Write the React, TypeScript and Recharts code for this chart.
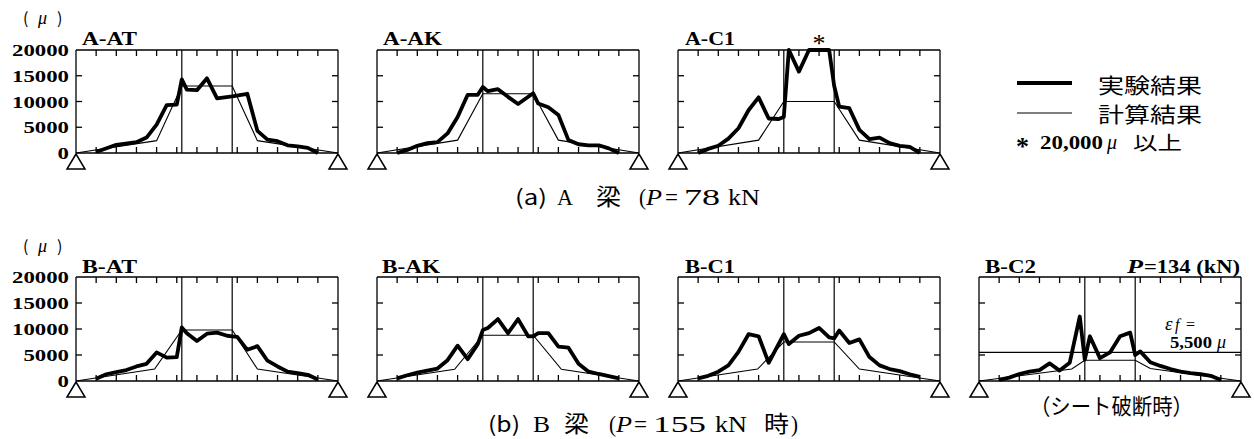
import React from 'react';
import { LineChart, Line, XAxis, YAxis, ReferenceLine, ReferenceDot } from 'recharts';

// ---------- axis ticks ----------
const Y_TICKS = [0, 5000, 10000, 15000, 20000];
const Y_INNER_TICKS = [5000, 10000, 15000];
const X_TICKS = [1, 2, 3, 4, 5, 6, 7, 8, 9, 10, 11, 12];
const X_DOMAIN = [0, 13];
const Y_DOMAIN = [0, 20000];
const LOAD_POINTS = [5.25, 7.75];
const SUPPORTS = [0, 13];
const SHEET_RUPTURE = 5500;

// ---------- A beam ----------
const AAT_EXP_X = [1, 2, 3, 3.5, 4, 4.5, 5, 5.25, 5.5, 6, 6.5, 7, 7.75, 8.5, 9, 9.5, 10, 10.5, 11, 11.5, 12];
const AAT_EXP_Y = [200, 1600, 2100, 3000, 5500, 9300, 9400, 14300, 12300, 12200, 14500, 10600, 11000, 11500, 4300, 2600, 2300, 1500, 1300, 1000, 0];
const AAT_CAL_X = [0, 4, 5.25, 7.75, 9, 13];
const AAT_CAL_Y = [0, 2400, 13000, 13000, 2400, 0];

const AAK_EXP_X = [1, 1.5, 2, 2.5, 3, 3.5, 4, 4.5, 5, 5.25, 5.5, 6, 6.5, 7, 7.75, 8, 8.5, 9, 9.5, 10, 10.5, 11, 11.5, 12];
const AAK_EXP_Y = [0, 600, 1400, 1900, 2100, 3800, 7000, 11300, 11300, 12800, 12000, 12400, 10900, 9500, 11600, 9600, 8900, 7400, 2500, 1700, 1500, 1500, 900, 0];
const AAK_CAL_X = [0, 4, 5.25, 7.75, 9, 13];
const AAK_CAL_Y = [0, 2500, 11500, 11500, 2500, 0];

const AC1_EXP_X = [1, 1.5, 2, 2.5, 3, 3.5, 4, 4.5, 5, 5.25, 5.5, 6, 6.5, 7.5, 7.75, 8, 8.5, 9, 9.5, 10, 10.5, 11, 11.5, 12];
const AC1_EXP_Y = [0, 800, 1400, 2800, 4800, 8300, 10800, 6700, 6600, 7000, 20000, 15800, 20000, 20000, 13000, 9000, 8700, 4500, 2700, 3000, 1900, 1400, 1200, 0];
const AC1_CAL_X = [0, 4, 5.25, 7.75, 9, 13];
const AC1_CAL_Y = [0, 2500, 10000, 10000, 2500, 0];

// ---------- B beam ----------
const BAT_EXP_X = [1, 1.5, 2, 2.5, 3, 3.5, 4, 4.5, 5, 5.25, 5.5, 6, 6.5, 7, 7.5, 7.75, 8, 8.5, 9, 9.5, 10, 10.5, 11, 11.5, 12];
const BAT_EXP_Y = [450, 1300, 1700, 2100, 2800, 3300, 5500, 4500, 4600, 10300, 9200, 7700, 9100, 9300, 8700, 8600, 8500, 6000, 6700, 3900, 2800, 1800, 1500, 1200, 300];
const BAT_CAL_X = [0, 3.9, 5.25, 7.75, 9, 13];
const BAT_CAL_Y = [0, 2300, 9800, 9800, 2300, 0];

const BAK_EXP_X = [1, 1.5, 2, 2.5, 3, 3.5, 4, 4.5, 5, 5.25, 5.5, 6, 6.5, 7, 7.5, 7.75, 8, 8.5, 9, 9.5, 10, 10.5, 11, 11.5, 12];
const BAK_EXP_Y = [500, 1100, 1600, 2000, 2400, 4000, 6800, 4200, 7100, 9800, 10200, 11900, 9200, 11900, 8600, 8600, 9200, 9200, 6600, 6400, 3300, 1800, 1350, 950, 500];
const BAK_CAL_X = [0, 3.85, 5.25, 7.75, 9.15, 13];
const BAK_CAL_Y = [0, 2250, 8800, 8800, 2250, 0];

const BC1_EXP_X = [1, 1.5, 2, 2.5, 3, 3.5, 4, 4.5, 5.25, 5.5, 6, 6.5, 7, 7.5, 7.75, 8, 8.5, 9, 9.5, 10, 10.5, 11, 11.5, 12];
const BC1_EXP_Y = [500, 1000, 1800, 3000, 5600, 9000, 8600, 3500, 9000, 7100, 8700, 9200, 10200, 8400, 8200, 9700, 7300, 8000, 4600, 3000, 2300, 1900, 1300, 800];
const BC1_CAL_X = [0, 3.95, 5.25, 7.75, 9, 13];
const BC1_CAL_Y = [0, 2300, 7500, 7500, 2300, 0];

const BC2_EXP_X = [1, 1.5, 2, 2.5, 3, 3.5, 4, 4.5, 5, 5.25, 5.5, 6, 6.5, 7, 7.5, 7.75, 8, 8.5, 9, 9.5, 10, 10.5, 11, 11.5, 12];
const BC2_EXP_Y = [200, 650, 1350, 1800, 2100, 3400, 2000, 3500, 12400, 4100, 8600, 4400, 5500, 8600, 9300, 5000, 5700, 3600, 2900, 2300, 1800, 1500, 1300, 1000, 200];
const BC2_CAL_X = [0, 4.6, 5.25, 7.75, 8.5, 13];
const BC2_CAL_Y = [0, 2300, 4000, 4000, 2400, 0];

// ---------- helpers ----------
const mk = (xs: number[], ys: number[]) => xs.map((x, i) => ({ x, y: ys[i] }));

const SERIF = '"Liberation Serif", "Times New Roman", serif';
const GOTHIC = '"Noto Sans CJK JP", "Noto Sans", sans-serif';

const AXIS = { stroke: '#000', strokeWidth: 1.3 };
const TICK_SIZE = 5;
const TICK_MARGIN = 2;
// inward tick length in each axis' data units (≈6 px)
const X_TICK_LEN = 0.3;
const Y_TICK_LEN = 1160;

const EmptyTick = () => <g />;

// mirrored left axis: label x = plotLeft + TICK_SIZE + TICK_MARGIN; draw labels outside, left of the frame
const YLabel = (props: any) => {
  const { x, y, payload } = props;
  const s = String(payload.value);
  const plotLeft = x - TICK_SIZE - TICK_MARGIN;
  return (
    <text x={plotLeft - 7} y={y + 6} textAnchor="end" fontFamily={SERIF} fontWeight="bold" fontSize={17.5} fill="#000"
      textLength={s.length * 11.4} lengthAdjust="spacingAndGlyphs">{s}</text>
  );
};

const Support = (props: any) => {
  const { cx, cy } = props;
  return (
    <polygon points={`${cx},${cy + 1} ${cx - 9},${cy + 16} ${cx + 9},${cy + 16}`} fill="#fff" stroke="#000" strokeWidth={1.5} />
  );
};

type Pt = { x: number; y: number };
type PanelProps = {
  left: number; top: number; h: number;
  exp: Pt[]; calc: Pt[];
  labels?: boolean; hline?: number;
};

const tickSegs = (): Pt[][] => {
  const segs: Pt[][] = [];
  X_TICKS.forEach((t) => {
    segs.push([{ x: t, y: Y_DOMAIN[0] }, { x: t, y: Y_DOMAIN[0] + Y_TICK_LEN }]);
    segs.push([{ x: t, y: Y_DOMAIN[1] - Y_TICK_LEN }, { x: t, y: Y_DOMAIN[1] }]);
  });
  Y_INNER_TICKS.forEach((t) => {
    segs.push([{ x: X_DOMAIN[0], y: t }, { x: X_DOMAIN[0] + X_TICK_LEN, y: t }]);
    segs.push([{ x: X_DOMAIN[1] - X_TICK_LEN, y: t }, { x: X_DOMAIN[1], y: t }]);
  });
  return segs;
};
const TICK_SEGMENTS = tickSegs();

function Panel({ left, top, h, exp, calc, labels, hline }: PanelProps) {
  const W = 262;
  const mT = 14, mB = 22, mR = 14;
  const mL = labels ? left : 14;
  const divLeft = labels ? 0 : left - mL;
  return (
    <div style={{ position: 'absolute', left: divLeft, top: top - mT }}>
      <LineChart width={mL + W + mR} height={mT + h + mB} margin={{ top: mT, right: mR, bottom: mB, left: mL }}>
        <XAxis xAxisId="b" dataKey="x" type="number" domain={X_DOMAIN} ticks={X_TICKS} orientation="bottom" mirror
          tick={EmptyTick} tickLine={false} axisLine={AXIS} />
        <XAxis xAxisId="t" dataKey="x" type="number" domain={X_DOMAIN} ticks={X_TICKS} orientation="top" mirror
          tick={EmptyTick} tickLine={false} axisLine={AXIS} />
        <YAxis yAxisId="l" orientation="left" type="number" domain={Y_DOMAIN} ticks={Y_TICKS} mirror interval={0}
          tick={labels ? YLabel : EmptyTick} tickSize={TICK_SIZE} tickMargin={TICK_MARGIN} tickLine={false} axisLine={AXIS} />
        <YAxis yAxisId="r" orientation="right" type="number" domain={Y_DOMAIN} ticks={Y_TICKS} mirror
          tick={EmptyTick} tickLine={false} axisLine={AXIS} />
        {TICK_SEGMENTS.map((seg, i) => (
          <ReferenceLine key={'t' + i} xAxisId="b" yAxisId="l" segment={seg} ifOverflow="visible" stroke="#000" strokeWidth={1.3} />
        ))}
        {LOAD_POINTS.map((lp) => (
          <ReferenceLine key={lp} xAxisId="b" yAxisId="l" x={lp} stroke="#000" strokeWidth={1.2} />
        ))}
        {hline !== undefined && (
          <ReferenceLine xAxisId="b" yAxisId="l" y={hline} stroke="#000" strokeWidth={1.2} />
        )}
        <Line xAxisId="b" yAxisId="l" data={calc} dataKey="y" type="linear" stroke="#000" strokeWidth={1.1}
          dot={false} activeDot={false} isAnimationActive={false} />
        <Line xAxisId="b" yAxisId="l" data={exp} dataKey="y" type="linear" stroke="#000" strokeWidth={3.8}
          strokeLinejoin="round" dot={false} activeDot={false} isAnimationActive={false} />
        {SUPPORTS.map((s) => (
          <ReferenceDot key={s} xAxisId="b" yAxisId="l" x={s} y={0} shape={(p: any) => <Support {...p} />} />
        ))}
      </LineChart>
    </div>
  );
}

const ROW_A = 50;
const ROW_B = 277;

const T = (p: any) => <text fill="#000" lengthAdjust="spacingAndGlyphs" {...p} />;

export default function App() {
  return (
    <div style={{ position: 'absolute', left: 0, top: 0, width: 1254, height: 439, background: '#fff', overflow: 'hidden' }}>
      <Panel left={76} top={ROW_A} h={103} exp={mk(AAT_EXP_X, AAT_EXP_Y)} calc={mk(AAT_CAL_X, AAT_CAL_Y)} labels />
      <Panel left={377} top={ROW_A} h={103} exp={mk(AAK_EXP_X, AAK_EXP_Y)} calc={mk(AAK_CAL_X, AAK_CAL_Y)} />
      <Panel left={678} top={ROW_A} h={103} exp={mk(AC1_EXP_X, AC1_EXP_Y)} calc={mk(AC1_CAL_X, AC1_CAL_Y)} />
      <Panel left={76} top={ROW_B} h={104} exp={mk(BAT_EXP_X, BAT_EXP_Y)} calc={mk(BAT_CAL_X, BAT_CAL_Y)} labels />
      <Panel left={377} top={ROW_B} h={104} exp={mk(BAK_EXP_X, BAK_EXP_Y)} calc={mk(BAK_CAL_X, BAK_CAL_Y)} />
      <Panel left={678} top={ROW_B} h={104} exp={mk(BC1_EXP_X, BC1_EXP_Y)} calc={mk(BC1_CAL_X, BC1_CAL_Y)} />
      <Panel left={979} top={ROW_B} h={104} exp={mk(BC2_EXP_X, BC2_EXP_Y)} calc={mk(BC2_CAL_X, BC2_CAL_Y)} hline={SHEET_RUPTURE} />

      <svg width={1254} height={439} style={{ position: 'absolute', left: 0, top: 0, pointerEvents: 'none' }}>
        {/* unit labels */}
        {[24, 252].map((by) => (
          <g key={by}>
            <T x={23} y={by} fontFamily={GOTHIC} fontSize={16}>(</T>
            <T x={38} y={by} fontFamily={SERIF} fontStyle="italic" fontSize={18}>μ</T>
            <T x={57} y={by} fontFamily={GOTHIC} fontSize={16}>)</T>
          </g>
        ))}

        {/* panel titles */}
        <g fontFamily={SERIF} fontWeight="bold" fontSize={18}>
          <T x={82} y={45} textLength={55}>A-AT</T>
          <T x={383} y={45} textLength={59}>A-AK</T>
          <T x={685} y={45} textLength={50}>A-C1</T>
          <T x={82} y={273} textLength={55}>B-AT</T>
          <T x={382} y={273} textLength={58}>B-AK</T>
          <T x={685} y={273} textLength={50}>B-C1</T>
          <T x={985} y={273} textLength={51}>B-C2</T>
          <T x={1127} y={273} textLength={16} fontStyle="italic">P</T>
          <T x={1144} y={273} textLength={96}>=134 (kN)</T>
        </g>

        {/* asterisk over A-C1 (values beyond 20,000 μ) */}
        <T x={819} y={52} textAnchor="middle" fontFamily={SERIF} fontSize={26}>*</T>

        {/* epsilon_f in B-C2 */}
        <T x={1165} y={330} fontFamily={SERIF} fontSize={19} fontStyle="italic">ε</T>
        <T x={1175} y={330} fontFamily={SERIF} fontSize={16} fontStyle="italic">f</T>
        <T x={1186} y={330} fontFamily={SERIF} fontSize={16}>=</T>
        <T x={1170} y={348} fontFamily={SERIF} fontWeight="bold" fontSize={17} textLength={42}>5,500</T>
        <T x={1217} y={348} fontFamily={SERIF} fontStyle="italic" fontSize={18}>μ</T>

        {/* legend */}
        <line x1={1017} y1={83} x2={1072} y2={83} stroke="#000" strokeWidth={4} />
        <line x1={1017} y1={113} x2={1072} y2={113} stroke="#000" strokeWidth={1.2} />
        <T x={1098} y={93} fontFamily={GOTHIC} fontSize={21} textLength={104}>実験結果</T>
        <T x={1098} y={122} fontFamily={GOTHIC} fontSize={21} textLength={104}>計算結果</T>
        <T x={1016} y={155} fontFamily={SERIF} fontWeight="bold" fontSize={26}>*</T>
        <T x={1040} y={149} fontFamily={SERIF} fontWeight="bold" fontSize={18} textLength={63}>20,000</T>
        <T x={1107} y={149} fontFamily={SERIF} fontStyle="italic" fontSize={20}>μ</T>
        <T x={1133} y={150} fontFamily={GOTHIC} fontSize={19} textLength={49}>以上</T>

        {/* caption (a) */}
        <T x={515} y={205} fontFamily={GOTHIC} fontSize={21} textLength={32}>(a)</T>
        <T x={557} y={205} fontFamily={SERIF} fontSize={24} textLength={16}>A</T>
        <T x={596} y={205} fontFamily={GOTHIC} fontSize={23} textLength={25}>梁</T>
        <T x={639} y={205} fontFamily={SERIF} fontSize={24} textLength={7}>(</T>
        <T x={646} y={205} fontFamily={SERIF} fontSize={24} fontStyle="italic" textLength={16}>P</T>
        <T x={665} y={205} fontFamily={SERIF} fontSize={24} textLength={13}>=</T>
        <T x={684} y={205} fontFamily={SERIF} fontSize={24} textLength={36}>78</T>
        <T x={728} y={205} fontFamily={SERIF} fontSize={24} textLength={32}>kN</T>

        {/* caption (b) */}
        <T x={488} y={432} fontFamily={GOTHIC} fontSize={21} textLength={32}>(b)</T>
        <T x={533} y={432} fontFamily={SERIF} fontSize={24} textLength={17}>B</T>
        <T x={564} y={432} fontFamily={GOTHIC} fontSize={23} textLength={25}>梁</T>
        <T x={609} y={432} fontFamily={SERIF} fontSize={24} textLength={7}>(</T>
        <T x={616} y={432} fontFamily={SERIF} fontSize={24} fontStyle="italic" textLength={16}>P</T>
        <T x={634} y={432} fontFamily={SERIF} fontSize={24} textLength={13}>=</T>
        <T x={653} y={432} fontFamily={SERIF} fontSize={24} textLength={53}>155</T>
        <T x={715} y={432} fontFamily={SERIF} fontSize={24} textLength={32}>kN</T>
        <T x={764} y={432} fontFamily={GOTHIC} fontSize={23} textLength={25}>時</T>
        <T x={791} y={432} fontFamily={SERIF} fontSize={24} textLength={7}>)</T>

        <T x={1030} y={414} fontFamily={GOTHIC} fontSize={22} textLength={163}>（シート破断時）</T>
      </svg>
    </div>
  );
}
